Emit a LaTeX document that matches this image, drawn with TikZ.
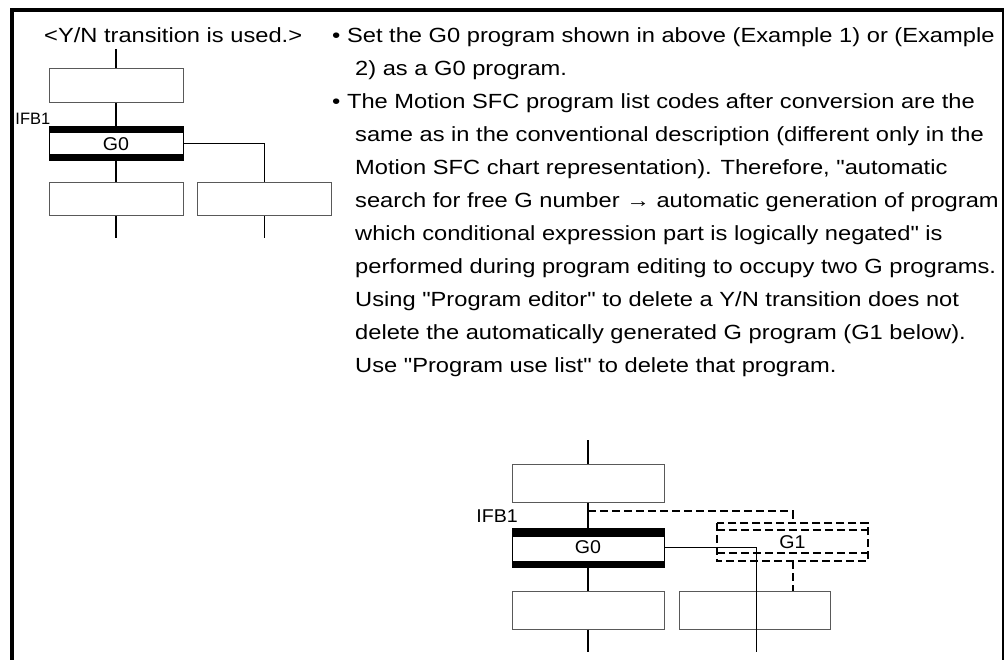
\documentclass[tikz,border=0pt]{standalone}
\usepackage{fontspec}
\setmainfont{Liberation Sans}[Ligatures=TeXOff]
\newfontfamily\txtfont{Liberation Sans}[Ligatures=TeXOff,FakeStretch=1.155]
\newfontfamily\lblfont{Liberation Sans}[FakeStretch=1.06]
\begin{document}
\begin{tikzpicture}[x=1pt,y=-1pt,
  stepbox/.style={draw=black!65,line width=1pt,inner sep=0pt},
  trbox/.style={draw=black,line width=1pt,inner sep=0pt,fill=white},
  flow/.style={line width=2pt},
  branch/.style={line width=1pt},
  dash2/.style={line width=2pt,dash pattern=on 8pt off 4pt},
  txt/.style={anchor=base west,inner sep=0pt,font=\txtfont\fontsize{20.5}{21}\selectfont},
  lbl/.style={inner sep=0pt,font=\lblfont\fontsize{18.5}{18.5}\selectfont}
]
\useasboundingbox (0,0) rectangle (1008,660);
\fill[white] (0,0) rectangle (1008,660);
% frame
\draw[line width=4pt] (12,660) -- (12,10) -- (1004,10);
\draw[line width=2.5pt] (1003,10) -- (1003,660);

% texts
\node[txt] (title) at (44,42.5) {<Y/N transition is used.>};
\node[txt] (l1) at (332,42.5) {• Set the G0 program shown in above (Example 1) or (Example};
\node[txt] (l2) at (355,75.5) {2) as a G0 program.};
\node[txt] (l3) at (332,108.5) {• The Motion SFC program list codes after conversion are the};
\node[txt] (l4) at (355,141.5) {same as in the conventional description (different only in the};
\node[txt] (l5) at (355,174.5) {Motion SFC chart representation). Therefore, "automatic};
\node[txt] (l6) at (355,207.5) {search for free G number → automatic generation of program};
\node[txt] (l7) at (355,240.5) {which conditional expression part is logically negated" is};
\node[txt] (l8) at (355,273.5) {performed during program editing to occupy two G programs.};
\node[txt] (l9) at (355,306.5) {Using "Program editor" to delete a Y/N transition does not};
\node[txt] (l10) at (355,339.5) {delete the automatically generated G program (G1 below).};
\node[txt] (l11) at (355,372.5) {Use "Program use list" to delete that program.};

% ---- small diagram ----
\coordinate (stop) at (116,49);
\node[stepbox,minimum width=134pt,minimum height=34pt] (s1) at (116,86) {};
\node[trbox,minimum width=134pt,minimum height=34pt,lbl] (sg0) at (116,144) {G0};
\fill (sg0.north west) rectangle ([yshift=-7pt]sg0.north east);
\fill (sg0.south west) rectangle ([yshift=7pt]sg0.south east);
\node[stepbox,minimum width=134pt,minimum height=33pt] (s2) at (116,199.5) {};
\node[stepbox,minimum width=134pt,minimum height=33pt] (s3) at (264,199.5) {};
\node[inner sep=0pt,anchor=east,font=\fontsize{16.5}{16.5}\selectfont] (sifb) at (50.5,119) {IFB1};
\coordinate (sbot1) at (116,238);
\coordinate (sbot2) at (264,238);
\draw[flow] (stop) -- (s1.north);
\draw[flow] (s1.south) -- (sg0.north);
\draw[flow] (sg0.south) -- (s2.north);
\draw[flow] (s2.south) -- (sbot1);
\draw[branch] (sg0.east) -| (s3.north);
\draw[branch] (s3.south) -- (sbot2);

% ---- big diagram ----
\coordinate (btop) at (588,440);
\node[stepbox,minimum width=152pt,minimum height=38pt] (b1) at (588,483) {};
\node[trbox,minimum width=152pt,minimum height=39pt,lbl] (bg0) at (588,547.5) {G0};
\fill (bg0.north west) rectangle ([yshift=-9pt]bg0.north east);
\fill (bg0.south west) rectangle ([yshift=7pt]bg0.south east);
\node[stepbox,minimum width=152pt,minimum height=38pt] (b2) at (588,610) {};
\node[stepbox,minimum width=151pt,minimum height=38pt] (b3) at (754.5,610) {};
\node[inner sep=0pt,anchor=east,lbl] (bifb) at (518,516.5) {IFB1};
\coordinate (bbot1) at (588,652);
\coordinate (bbot2) at (756,652);
\coordinate (bj) at (588,511);
\draw[flow] (btop) -- (b1.north);
\draw[flow] (b1.south) -- (bg0.north);
\draw[flow] (bg0.south) -- (b2.north);
\draw[flow] (b2.south) -- (bbot1);
% G1 dashed transition
\node[inner sep=0pt,minimum width=151pt,minimum height=38pt,lbl] (g1) at (792.5,542) {G1};
\draw[branch] (bg0.east) -- (bg0.east -| bbot2) -- (bbot2);
\draw[dash2] (g1.north west) rectangle (g1.south east);
\draw[dash2] ([yshift=-7pt]g1.north west) -- ([yshift=-7pt]g1.north east);
\draw[dash2] ([yshift=8pt]g1.south west) -- ([yshift=8pt]g1.south east);
\draw[dash2] (bj) -| (g1.north);
\draw[dash2] (g1.south) -- (g1.south |- b3.north);
\end{tikzpicture}
\end{document}
